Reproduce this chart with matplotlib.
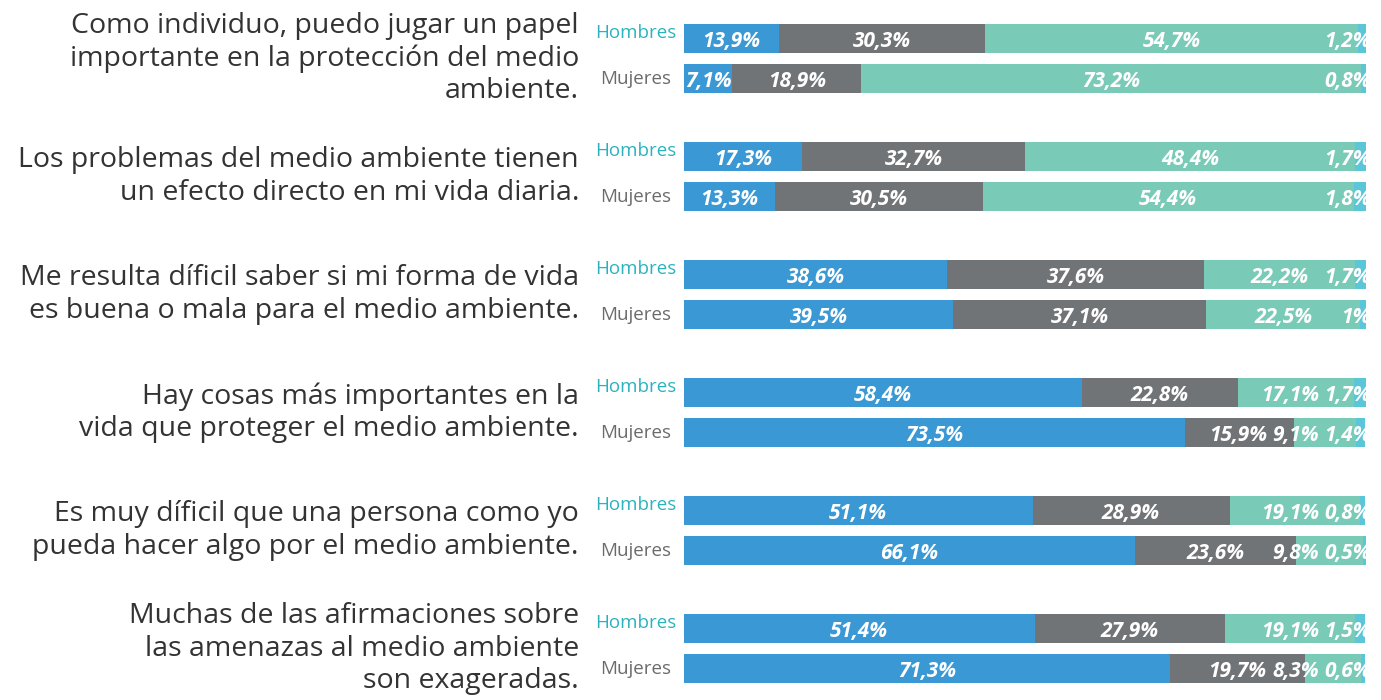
import matplotlib.pyplot as plt

plt.rcParams['font.family'] = ['Open Sans', 'DejaVu Sans']

statements = [
    'Como individuo, puedo jugar un papel\nimportante en la protección del medio\nambiente.',
    'Los problemas del medio ambiente tienen\nun efecto directo en mi vida diaria.',
    'Me resulta díficil saber si mi forma de vida\nes buena o mala para el medio ambiente.',
    'Hay cosas más importantes en la\nvida que proteger el medio ambiente.',
    'Es muy díficil que una persona como yo\npueda hacer algo por el medio ambiente.',
    'Muchas de las afirmaciones sobre\nlas amenazas al medio ambiente\nson exageradas.',
]

# four answer segments per bar, in stacking order
hombres = [
    [13.9, 30.3, 54.7, 1.2],
    [17.3, 32.7, 48.4, 1.7],
    [38.6, 37.6, 22.2, 1.7],
    [58.4, 22.8, 17.1, 1.7],
    [51.1, 28.9, 19.1, 0.8],
    [51.4, 27.9, 19.1, 1.5],
]
mujeres = [
    [7.1, 18.9, 73.2, 0.8],
    [13.3, 30.5, 54.4, 1.8],
    [39.5, 37.1, 22.5, 1.0],
    [73.5, 15.9, 9.1, 1.4],
    [66.1, 23.6, 9.8, 0.5],
    [71.3, 19.7, 8.3, 0.6],
]

colors = ['#3a98d4', '#717477', '#7acab8', '#5bc6d8']

fig = plt.figure(figsize=(13.81, 7.0), dpi=100)
ax = fig.add_axes([684 / 1381, 0, 682 / 1381, 1])
ax.set_xlim(0, 100)
ax.set_ylim(700, 0)
ax.axis('off')

bar_h = 29
group_step = 118
first_y = 38.5
pair_gap = 40


def fmt(v):
    s = f'{v:.1f}'.replace('.', ',')
    return s[:-2] + '%' if s.endswith(',0') else s + '%'


label_rows = []


def draw_bar(y, vals):
    left = 0
    row = []
    for k, (v, c) in enumerate(zip(vals, colors)):
        ax.barh(y, v, left=left, height=bar_h, color=c, linewidth=0)
        if k == 3:
            t = ax.text(100.7, y + 3, fmt(v), ha='right', va='center', color='white',
                        fontsize=15, fontweight='bold', style='italic', clip_on=True)
        else:
            t = ax.text(left + v / 2, y + 3, fmt(v), ha='center', va='center', color='white',
                        fontsize=15, fontweight='bold', style='italic')
        row.append(t)
        left += v
    label_rows.append(row)


for i, stmt in enumerate(statements):
    yh = first_y + i * group_step
    ym = yh + pair_gap
    draw_bar(yh, hombres[i])
    draw_bar(ym, mujeres[i])
    fig.text(636 / 1381, 1 - (yh - 6) / 700, 'Hombres', ha='center', va='center',
             color='#2ab3bf', fontsize=13.5)
    fig.text(636 / 1381, 1 - ym / 700, 'Mujeres', ha='center', va='center',
             color='#6b6b6b', fontsize=13.5)
    fig.text(579 / 1381, 1 - (yh + ym) / 2 / 700, stmt, ha='right', va='center',
             color='#333333', fontsize=20.5, linespacing=1.2)

# push labels left when they would run into the next one
fig.canvas.draw()
renderer = fig.canvas.get_renderer()
px_per_unit = ax.transData.transform((1, 0))[0] - ax.transData.transform((0, 0))[0]
for row in label_rows:
    for k in range(len(row) - 2, -1, -1):
        ext = row[k].get_window_extent(renderer)
        limit = row[k + 1].get_window_extent(renderer).x0 - 5
        if ext.x1 > limit:
            x, y = row[k].get_position()
            row[k].set_position((x - (ext.x1 - limit) / px_per_unit, y))

plt.savefig('out.png', dpi=100)
